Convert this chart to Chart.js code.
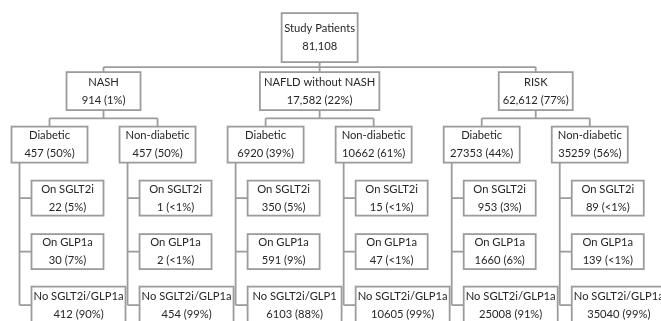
<!DOCTYPE html>
<html>
<head>
<meta charset="utf-8">
<script src="https://cdn.jsdelivr.net/npm/chart.js@4"></script>
<style>
  html, body { margin: 0; padding: 0; background: #fff; }
  canvas { display: block; }
</style>
</head>
<body>
<canvas id="flowChart" width="661" height="321"></canvas>
<script>
const rootLabel = "Study Patients";
const rootCount = 81108;

const cohorts = ["NASH", "NAFLD without NASH", "RISK"];
const cohortCounts = [914, 17582, 62612];
const cohortPct = ["1%", "22%", "77%"];

const diabetesLabels = ["Diabetic", "Non-diabetic", "Diabetic", "Non-diabetic", "Diabetic", "Non-diabetic"];
const diabetesCounts = [457, 457, 6920, 10662, 27353, 35259];
const diabetesPct = ["50%", "50%", "39%", "61%", "44%", "56%"];

const sglt2Counts = [22, 1, 350, 15, 953, 89];
const sglt2Pct = ["5%", "<1%", "5%", "<1%", "3%", "<1%"];
const glp1Counts = [30, 2, 591, 47, 1660, 139];
const glp1Pct = ["7%", "<1%", "9%", "<1%", "6%", "<1%"];
const noneLabels = ["No SGLT2i/GLP1a", "No SGLT2i/GLP1a", "No SGLT2i/GLP1", "No SGLT2i/GLP1a", "No SGLT2i/GLP1a", "No SGLT2i/GLP1a"];
const noneCounts = [412, 454, 6103, 10605, 25008, 35040];
const nonePct = ["90%", "99%", "88%", "99%", "91%", "99%"];

// box sizes in px
const ROOT_H = 49, COHORT_H = 38, DIAB_H = 36, DRUG_H = 35;
const DIAB_W = 76, DIAB_INSET = 8;
const DRUG_GAP = 12, DRUG_W = 72, NONE_W = 94;
const CHILD_SHIFT = DIAB_W / 2 - DIAB_INSET;
const FONT = "11.2px Lato";
const LINE_COLOR = "#9c9c9c";
const TEXT_COLOR = "#262626";

const fmt = n => n.toLocaleString("en-US");

// tree nodes: x = column (trunk index), y = row
const nodes = [];
const cohortX = cohorts.map((c, k) => (2 * k + 2 * k + 1) / 2);
nodes.push({ level: 0, x: cohortX.reduce((a, b) => a + b, 0) / cohortX.length, y: 0,
  lines: [rootLabel, fmt(rootCount)] });
cohorts.forEach((c, k) => {
  nodes.push({ level: 1, x: cohortX[k], y: 1, lines: [c, `${fmt(cohortCounts[k])} (${cohortPct[k]})`] });
});
diabetesLabels.forEach((d, i) => {
  nodes.push({ level: 2, x: i, y: 2, lines: [d, `${diabetesCounts[i]} (${diabetesPct[i]})`] });
  nodes.push({ level: 3, x: i, y: 3, lines: ["On SGLT2i", `${sglt2Counts[i]} (${sglt2Pct[i]})`] });
  nodes.push({ level: 3, x: i, y: 4, lines: ["On GLP1a", `${glp1Counts[i]} (${glp1Pct[i]})`] });
  nodes.push({ level: 3, x: i, y: 5, lines: [noneLabels[i], `${noneCounts[i]} (${nonePct[i]})`], last: true });
});

const treePlugin = {
  id: "tree",
  afterDatasetsDraw(chart) {
    const c = chart.ctx;
    const pts = chart.getDatasetMeta(0).data;
    const P = nodes.map((n, i) => ({ ...n, px: pts[i].x, py: pts[i].y }));
    c.save();
    c.font = FONT;
    c.lineWidth = 1.8;
    c.strokeStyle = LINE_COLOR;

    const line = (x1, y1, x2, y2) => { c.beginPath(); c.moveTo(x1, y1); c.lineTo(x2, y2); c.stroke(); };
    const box = (left, cy, w, h, lines) => {
      const top = cy - h / 2;
      c.fillStyle = "#fff";
      c.fillRect(left, top, w, h);
      c.strokeRect(left, top, w, h);
      c.fillStyle = TEXT_COLOR;
      c.textAlign = "center";
      c.textBaseline = "middle";
      c.fillText(lines[0], left + w / 2, cy - 9);
      c.fillText(lines[1], left + w / 2, cy + 9);
    };
    const textW = lines => Math.max(...lines.map(l => c.measureText(l).width));

    const root = P.find(n => n.level === 0);
    const cohortN = P.filter(n => n.level === 1);
    const diabN = P.filter(n => n.level === 2);
    const drugN = P.filter(n => n.level === 3);

    // root -> cohorts
    const rootCx = root.px + CHILD_SHIFT;
    const rootBottom = root.py + ROOT_H / 2;
    const cohortTop = cohortN[0].py - COHORT_H / 2;
    const bar1 = (rootBottom + cohortTop) / 2;
    line(rootCx, rootBottom, rootCx, bar1);
    line(cohortN[0].px + CHILD_SHIFT, bar1, cohortN[cohortN.length - 1].px + CHILD_SHIFT, bar1);
    cohortN.forEach(n => line(n.px + CHILD_SHIFT, bar1, n.px + CHILD_SHIFT, cohortTop));

    // cohorts -> diabetes split
    const cohortBottom = cohortN[0].py + COHORT_H / 2;
    const diabTop = diabN[0].py - DIAB_H / 2;
    const bar2 = (cohortBottom + diabTop) / 2;
    cohortN.forEach((n, k) => {
      const kids = diabN.slice(2 * k, 2 * k + 2);
      line(n.px + CHILD_SHIFT, cohortBottom, n.px + CHILD_SHIFT, bar2);
      line(kids[0].px + CHILD_SHIFT, bar2, kids[1].px + CHILD_SHIFT, bar2);
      kids.forEach(d => line(d.px + CHILD_SHIFT, bar2, d.px + CHILD_SHIFT, diabTop));
    });

    // diabetes trunks -> treatment boxes
    diabN.forEach(d => {
      const kids = drugN.filter(n => n.x === d.x);
      line(d.px, d.py + DIAB_H / 2, d.px, kids[kids.length - 1].py);
      kids.forEach(k => line(d.px, k.py, k.px + DRUG_GAP, k.py));
    });

    // boxes
    box(rootCx - 38, root.py, 76, ROOT_H, root.lines);
    cohortN.forEach(n => {
      const w = Math.max(74, textW(n.lines) + 8);
      box(n.px + CHILD_SHIFT - w / 2, n.py, w, COHORT_H, n.lines);
    });
    diabN.forEach(n => box(n.px - DIAB_INSET, n.py, DIAB_W, DIAB_H, n.lines));
    drugN.forEach(n => box(n.px + DRUG_GAP, n.py, n.last ? NONE_W : DRUG_W, n.last ? DRUG_H + 2 : DRUG_H, n.lines));
    c.restore();
  }
};

new Chart(document.getElementById("flowChart"), {
  type: "scatter",
  data: {
    datasets: [{
      data: nodes.map(n => ({ x: n.x, y: n.y })),
      pointRadius: 0,
      pointHoverRadius: 0
    }]
  },
  options: {
    responsive: false,
    animation: false,
    events: [],
    layout: { padding: 0 },
    plugins: { legend: { display: false }, tooltip: { enabled: false } },
    scales: {
      x: { type: "linear", display: false, min: -0.1805, max: 5.937 },
      y: { type: "linear", display: false, reverse: true, min: -0.703, max: 5.297 }
    }
  },
  plugins: [treePlugin]
});
</script>
</body>
</html>
